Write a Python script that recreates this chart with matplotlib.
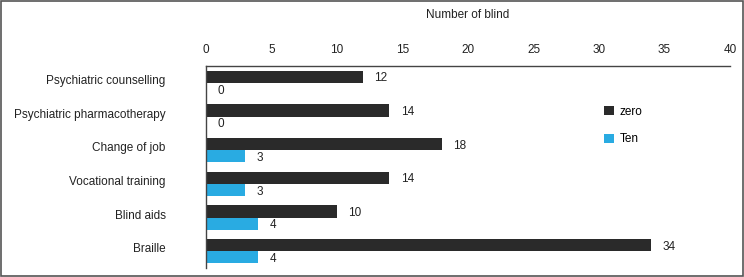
import matplotlib.pyplot as plt
import numpy as np
from matplotlib.patches import Rectangle

plt.rcParams['font.family'] = ['Liberation Sans', 'DejaVu Sans']

categories = ["Psychiatric counselling", "Psychiatric pharmacotherapy", "Change of job",
              "Vocational training", "Blind aids", "Braille"]
zero = [12, 14, 18, 14, 10, 34]
ten = [0, 0, 3, 3, 4, 4]

black = "#2a2a2a"
blue = "#29abe2"
fs = 8.5

fig = plt.figure(figsize=(7.44, 2.77), dpi=100)
ax = fig.add_axes([0.2769, 0.0325, 0.7043, 0.7292])

y = np.arange(len(categories))
h = 0.36
ax.barh(y - h / 2, zero, height=h, color=black, label="zero")
ax.barh(y + h / 2, ten, height=h, color=blue, label="Ten")

# value labels just right of each bar
for yi, v in zip(y, zero):
    ax.text(v + 0.85, yi - h / 2 + 0.05, str(v), va="center", ha="left", fontsize=fs, color="#222222")
for yi, v in zip(y, ten):
    ax.text(v + 0.85, yi + h / 2 + 0.05, str(v), va="center", ha="left", fontsize=fs, color="#222222")

ax.set_xlim(0, 40)
ax.set_ylim(len(categories) - 0.5, -0.5)
ax.set_xticks(np.arange(0, 41, 5))
ax.xaxis.tick_top()
ax.xaxis.set_label_position("top")
ax.tick_params(axis="x", length=0, pad=7, labelsize=fs, colors="#222222")
ax.set_xlabel("Number of blind", fontsize=fs, labelpad=19, color="#222222")

ax.set_yticks(y - 0.1)
ax.set_yticklabels(categories)
ax.tick_params(axis="y", length=0, pad=29, labelsize=fs, colors="#222222")

ax.spines["right"].set_visible(False)
ax.spines["bottom"].set_visible(False)
for s in ["top", "left"]:
    ax.spines[s].set_color("#444444")
    ax.spines[s].set_linewidth(1.0)

ax.legend(loc="upper left", bbox_to_anchor=(0.74, 0.855), frameon=False, fontsize=fs,
          handlelength=0.8, handleheight=0.8, labelspacing=1.3, handletextpad=0.5)

fig.patches.append(Rectangle((0.002, 0.004), 0.996, 0.992, transform=fig.transFigure,
                             fill=False, edgecolor="#555555", linewidth=1.2))

fig.savefig("out.png", dpi=100)
